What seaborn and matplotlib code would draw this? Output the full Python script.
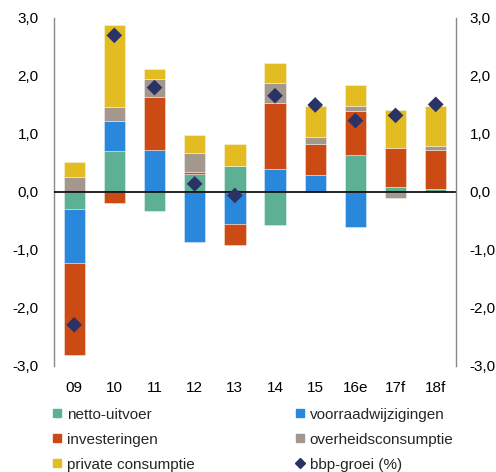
import matplotlib
matplotlib.use("Agg")
import matplotlib.pyplot as plt
from matplotlib.lines import Line2D
import numpy as np
import seaborn as sns

# jaren en bijdragen aan de bbp-groei (procentpunt)
jaren = ["09", "10", "11", "12", "13", "14", "15", "16e", "17f", "18f"]
netto_uitvoer = [-0.30, 0.71, -0.32, 0.31, 0.44, -0.57, 0.00, 0.63, 0.08, 0.05]
voorraadwijzigingen = [-0.92, 0.52, 0.72, -0.86, -0.55, 0.39, 0.29, -0.61, 0.00, 0.00]
investeringen = [-1.59, -0.19, 0.92, 0.04, -0.36, 1.14, 0.54, 0.76, 0.67, 0.67]
overheidsconsumptie = [0.25, 0.24, 0.30, 0.33, 0.00, 0.35, 0.12, 0.09, -0.10, 0.07]
private_consumptie = [0.27, 1.41, 0.18, 0.31, 0.39, 0.34, 0.54, 0.36, 0.66, 0.70]
bbp_groei = [-2.29, 2.70, 1.80, 0.14, -0.06, 1.66, 1.50, 1.23, 1.32, 1.51]

componenten = [
    ("netto-uitvoer", netto_uitvoer, "#5EB094"),
    ("voorraadwijzigingen", voorraadwijzigingen, "#2A88DC"),
    ("investeringen", investeringen, "#CC4A14"),
    ("overheidsconsumptie", overheidsconsumptie, "#A3978E"),
    ("private consumptie", private_consumptie, "#E3BC22"),
]
kleur_bbp = "#2B3266"

sns.set_theme(style="white")
plt.rcParams["font.family"] = ["Liberation Sans", "DejaVu Sans"]

fig = plt.figure(figsize=(4.96, 4.72), dpi=100)
ax = fig.add_axes([0.109, 0.2246, 0.810, 0.7373])

pos_bodem = np.zeros(len(jaren))
neg_bodem = np.zeros(len(jaren))
for naam, waarden, kleur in componenten:
    waarden = np.array(waarden)
    bodem = np.where(waarden >= 0, pos_bodem, neg_bodem)
    sns.barplot(
        x=jaren,
        y=waarden,
        bottom=bodem,
        color=kleur,
        saturation=1,
        width=0.53,
        edgecolor=(1, 1, 1, 0.45),
        linewidth=0.6,
        ax=ax,
    )
    pos_bodem += np.clip(waarden, 0, None)
    neg_bodem += np.clip(waarden, None, 0)

ax.axhline(0, color="black", linewidth=1.2, zorder=4)

sns.scatterplot(
    x=np.arange(len(jaren)),
    y=bbp_groei,
    marker="D",
    s=64,
    color=kleur_bbp,
    edgecolor="none",
    zorder=6,
    ax=ax,
)

ticks = [-3, -2, -1, 0, 1, 2, 3]
tick_labels = [f"{t:.1f}".replace(".", ",") for t in ticks]
ax.set_ylim(-3, 3)
ax.set_xlim(-0.5, len(jaren) - 0.5)
ax.set_yticks(ticks)
ax.set_yticklabels(tick_labels)
ax.tick_params(axis="y", length=0, pad=11, labelsize=11, colors="black")
ax.tick_params(axis="x", length=0, pad=11, labelsize=11, colors="black")
ax.set_xlabel("")
ax.set_ylabel("")

ax2 = ax.twinx()
ax2.set_ylim(-3, 3)
ax2.set_yticks(ticks)
ax2.set_yticklabels(tick_labels)
ax2.tick_params(axis="y", length=0, pad=10, labelsize=11, colors="black")

for a in (ax, ax2):
    for kant in ("top", "bottom"):
        a.spines[kant].set_visible(False)
ax.spines["right"].set_visible(False)
ax2.spines["left"].set_visible(False)
ax.spines["left"].set_color("#888888")
ax2.spines["right"].set_color("#888888")
ax.spines["left"].set_linewidth(1.0)
ax2.spines["right"].set_linewidth(1.0)
ax.grid(False)
ax2.grid(False)

# legenda: eerst de linkerkolom, dan de rechter
handles = {naam: Line2D([], [], marker="s", linestyle="", color=kleur, markersize=6)
           for naam, _, kleur in componenten}
handles["bbp-groei (%)"] = Line2D([], [], marker="D", linestyle="", color=kleur_bbp, markersize=5)
volgorde = ["netto-uitvoer", "investeringen", "private consumptie",
            "voorraadwijzigingen", "overheidsconsumptie", "bbp-groei (%)"]
fig.legend(
    [handles[n] for n in volgorde],
    volgorde,
    ncol=2,
    loc="upper left",
    bbox_to_anchor=(0.105, 0.136),
    frameon=False,
    fontsize=11,
    borderaxespad=0,
    borderpad=0,
    handlelength=0.65,
    handletextpad=0.3,
    columnspacing=6.6,
    labelspacing=0.72,
)

plt.savefig("out.png", dpi=100)
plt.close()
